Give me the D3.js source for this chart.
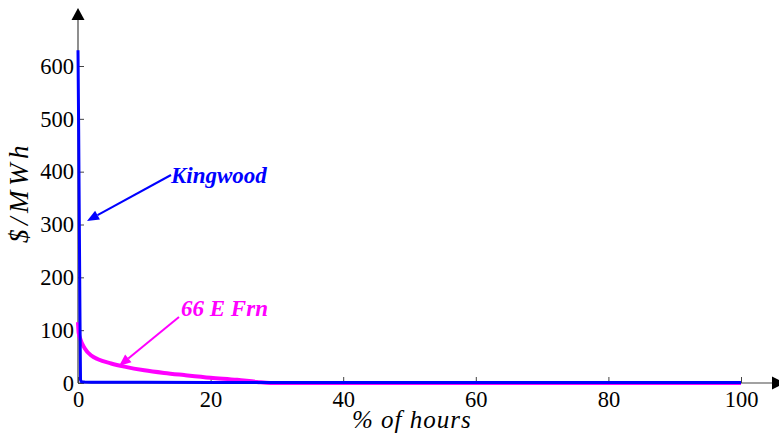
<!DOCTYPE html>
<html>
<head>
<meta charset="utf-8">
<script src="https://cdn.jsdelivr.net/npm/d3@7"></script>
<style>
  html, body { margin: 0; padding: 0; background: #fff; }
  svg { display: block; }
  svg text { font-family: "Liberation Serif", "Times New Roman", Times, serif !important; }
</style>
</head>
<body>
<svg id="chart" width="779" height="438"></svg>
<script>
// Price duration curves: share of hours (%) vs. price ($/MWh)
const kingwoodPct   = [0, 0.1, 0.2, 0.3, 0.38, 0.5, 1, 2, 5, 10, 20, 40, 60, 80, 100];
const kingwoodPrice = [630, 480, 300, 120, 6, 2.5, 2, 1.5, 1.5, 1.2, 1, 1, 1, 1, 1];

const frnPct   = [0, 0.1, 0.3, 1, 2, 3, 5, 7, 10, 13, 16, 20, 24, 27, 29, 100];
const frnPrice = [115, 95, 85, 66, 52, 45, 37, 31, 24, 19, 15, 10, 6, 2, 0, 0];

const xTicks = [0, 20, 40, 60, 80, 100];
const yTicks = [0, 100, 200, 300, 400, 500, 600];

const serif = "'Liberation Serif', 'Times New Roman', Times, serif";
const svg = d3.select("#chart");
const x = d3.scaleLinear().domain([0, 100]).range([78, 741]);
const y = d3.scaleLinear().domain([0, 600]).range([383, 66]);

const axisColor = "#444";

// Axes with inward ticks
const gx = svg.append("g").attr("transform", `translate(0,${y(0)})`)
  .call(d3.axisBottom(x).tickValues(xTicks).tickSizeInner(-6).tickSizeOuter(0).tickPadding(8));
const gy = svg.append("g").attr("transform", `translate(${x(0)},0)`)
  .call(d3.axisLeft(y).tickValues(yTicks).tickSizeInner(-6).tickSizeOuter(0).tickPadding(4));

[gx, gy].forEach(g => {
  g.attr("font-family", serif);
  g.select(".domain").remove();
  g.selectAll(".tick line").attr("stroke", axisColor).attr("stroke-width", 1);
  g.selectAll(".tick text").attr("font-size", 22.5).attr("fill", "#000");
});
gx.selectAll(".tick text").attr("dy", "0.71em");

// Axis lines extended with arrowheads
svg.append("line").attr("x1", x(0)).attr("x2", 773).attr("y1", y(0)).attr("y2", y(0))
  .attr("stroke", axisColor).attr("stroke-width", 1.2);
svg.append("line").attr("x1", x(0)).attr("x2", x(0)).attr("y1", y(0)).attr("y2", 20)
  .attr("stroke", axisColor).attr("stroke-width", 1.2);
svg.append("path").attr("d", `M785,${y(0)} L772,${y(0) - 6.5} L772,${y(0) + 6.5} Z`).attr("fill", "#000");
svg.append("path").attr("d", `M${x(0)},8 L${x(0) - 6.5},20 L${x(0) + 6.5},20 Z`).attr("fill", "#000");

// Curves
const smooth = d3.line().x(d => x(d[0])).y(d => y(d[1])).curve(d3.curveMonotoneX);
const straight = d3.line().x(d => x(d[0])).y(d => y(d[1]));

svg.append("path")
  .datum(frnPct.map((p, i) => [p, frnPrice[i]]))
  .attr("d", smooth).attr("fill", "none").attr("stroke", "#ff00ff").attr("stroke-width", 4);

svg.append("path")
  .datum(kingwoodPct.map((p, i) => [p, kingwoodPrice[i]]))
  .attr("d", straight).attr("fill", "none").attr("stroke", "#0000ff").attr("stroke-width", 3)
  .attr("stroke-linejoin", "round");

// Annotations with arrows
function arrow(x1, y1, x2, y2, color) {
  const ang = Math.atan2(y2 - y1, x2 - x1);
  const len = 12, w = 5;
  const bx = x2 - len * Math.cos(ang), by = y2 - len * Math.sin(ang);
  svg.append("line").attr("x1", x1).attr("y1", y1).attr("x2", bx).attr("y2", by)
    .attr("stroke", color).attr("stroke-width", 2);
  const px = -Math.sin(ang) * w, py = Math.cos(ang) * w;
  svg.append("path")
    .attr("d", `M${x2},${y2} L${bx + px},${by + py} L${bx - px},${by - py} Z`)
    .attr("fill", color);
}

arrow(171, 175, 87, 221, "#0000ff");
svg.append("text").attr("x", 171).attr("y", 183)
  .attr("font-size", 23).attr("font-weight", "bold").attr("font-style", "italic")
  .attr("fill", "#0000ff").text("Kingwood");

arrow(179, 317, 119, 366, "#ff00ff");
svg.append("text").attr("x", 181).attr("y", 316)
  .attr("font-size", 23).attr("font-weight", "bold").attr("font-style", "italic")
  .attr("fill", "#ff00ff").text("66 E Frn");

// Axis titles
svg.append("text").attr("x", 352).attr("y", 428)
  .attr("font-size", 25).attr("letter-spacing", 1).attr("font-style", "italic").text("% of hours");
svg.append("text").attr("transform", "translate(28,243) rotate(-90)")
  .attr("font-size", 27).attr("letter-spacing", 4.5).attr("font-style", "italic").text("$/MWh");
</script>
</body>
</html>
